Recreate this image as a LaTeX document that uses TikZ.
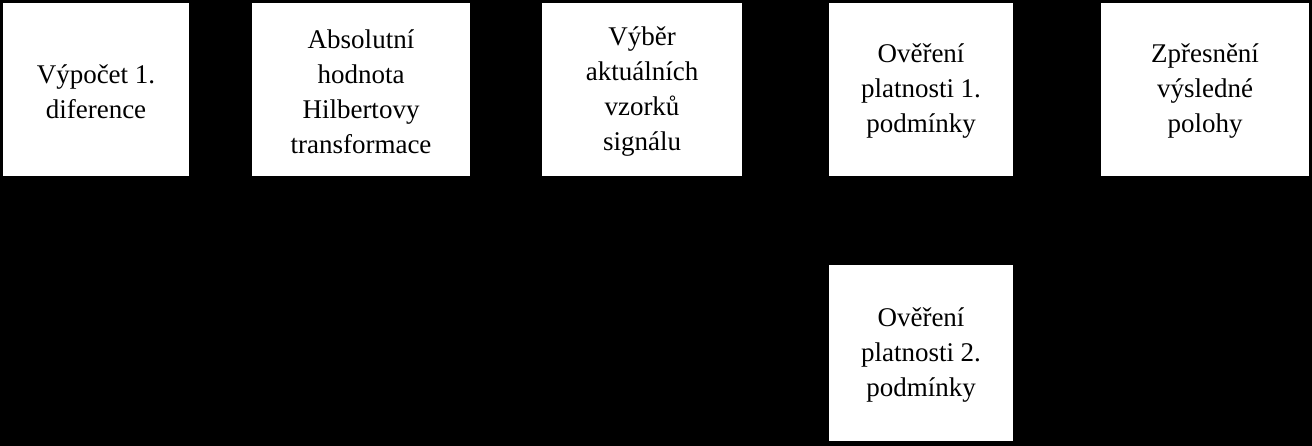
\documentclass[tikz,border=0pt]{standalone}
\usepackage{fontspec}
\setmainfont{Liberation Serif}
\begin{document}
\begin{tikzpicture}[x=1pt,y=-1pt,
  box/.style={fill=white,draw=none,align=center,inner sep=0pt,font=\fontsize{27}{35}\selectfont}]
\fill[black] (0,0) rectangle (1312,446);
\useasboundingbox (0,0) rectangle (1312,446);
\newcommand{\bx}[6]{\fill[white] (#2,#3) rectangle (#4,#5); \node[box] (#1) at ({(#2+#4)/2},{(#3+#5)/2+2}) {#6};}
\bx{a}{3}{3}{189}{176}{Výpočet 1.\\diference}
\bx{b}{252}{3}{470}{176}{Absolutní\\hodnota\\Hilbertovy\\transformace}
\bx{c}{542}{3}{742}{176}{Výběr\\aktuálních\\vzorků\\signálu}
\bx{d}{829}{3}{1013}{176}{Ověření\\platnosti 1.\\podmínky}
\bx{e}{1101}{3}{1309}{176}{Zpřesnění\\výsledné\\polohy}
\bx{f}{829}{265}{1013}{441}{Ověření\\platnosti 2.\\podmínky}
\end{tikzpicture}
\end{document}
